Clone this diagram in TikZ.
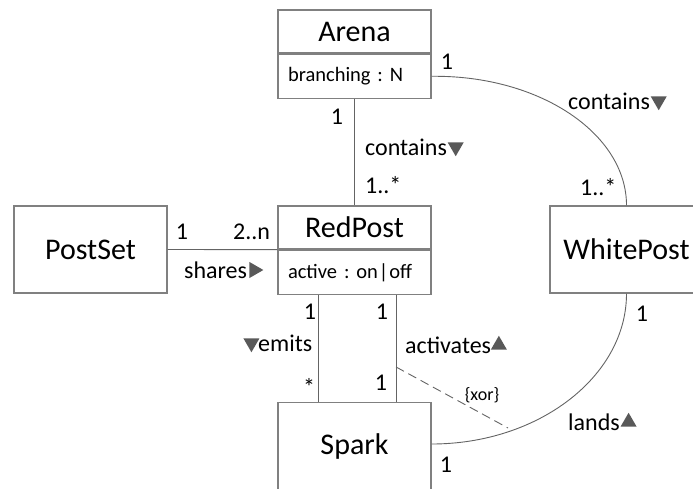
\documentclass[tikz,border=0pt]{standalone}
\usepackage{fontspec}
\setmainfont{Carlito}
\frenchspacing
\usetikzlibrary{positioning,shapes.geometric}
\definecolor{boxgray}{RGB}{128,128,128}
\definecolor{linegray}{RGB}{100,100,100}
\definecolor{trigray}{RGB}{89,89,89}
\tikzset{
  classbox/.style={draw=boxgray,line width=1.3pt,minimum width=153pt,inner sep=0pt,font=\fontsize{30}{35}\selectfont},
  classname/.style={classbox,minimum height=43pt},
  classattr/.style={classbox,minimum height=44pt,inner xsep=10pt,text width=133pt,align=left,font=\fontsize{20.5}{24}\selectfont},
  classfull/.style={classbox,minimum height=87pt},
  assoc/.style={draw=linegray,line width=0.9pt},
  lbl/.style={inner sep=0pt,font=\fontsize{24}{28}\selectfont},
  tri/.style={regular polygon,regular polygon sides=3,fill=trigray,inner sep=0pt,minimum size=18.5pt},
  triup/.style={tri},
  tridown/.style={tri,shape border rotate=180},
  triright/.style={tri,shape border rotate=-90}
}
\begin{document}
\begin{tikzpicture}[x=1pt,y=-1pt]
\useasboundingbox (0,0) rectangle (693,489);
% classes
\node[classname] (arena) at (354.5,31.5) {Arena};
\node[classattr,below=0pt of arena] (arenaattr) {\mbox{branching : N}};
\node[classname] (redpost) at (354.5,227.5) {RedPost};
\node[classattr,below=0pt of redpost] (redpostattr) {\mbox{active : on\kern1pt|\kern1pt off}};
\node[classfull] (postset) at (90.5,249.5) {PostSet};
\node[classfull] (whitepost) at (626.5,249.5) {WhitePost};
\node[classfull] (spark) at (354.5,446) {Spark};

% associations
\draw[assoc] (arenaattr.south) -- (redpost.north);
\draw[assoc] (postset.east) -- (redpost.south west);
\draw[assoc] ([xshift=-36.5pt]redpostattr.south) -- ([xshift=-36.5pt]spark.north);
\draw[assoc] ([xshift=41.5pt]redpostattr.south) coordinate (actstart) -- ([xshift=41.5pt]spark.north);
\draw[assoc] (arenaattr.east) .. controls (540,75) and (626.5,134) .. (whitepost.north);
\draw[assoc] (whitepost.south) .. controls (626.5,376) and (539,444) .. ([yshift=2pt]spark.east);
\coordinate (xorend) at (508,428);
\draw[assoc,dash pattern=on 9pt off 5pt] ([yshift=-72pt]actstart) -- (xorend);

% labels
\node[lbl] (mA1) at (337,117) {1};
\node[lbl,anchor=west] (contA) at (365,147) {contains};
\node[tridown,right=3pt of contA] (contAtri) {};
\node[lbl,anchor=west] (mA2) at (365,185) {1..*};
\node[lbl] (mB1) at (447,62) {1};
\node[lbl,anchor=west] (contB) at (568,101) {contains};
\node[tridown,right=3pt of contB] (contBtri) {};
\node[lbl,anchor=west] (mB2) at (580,187) {1..*};
\node[lbl] (mC1) at (642,314) {1};
\node[lbl,anchor=west] (lands) at (568,422) {lands};
\node[triup,right=3pt of lands] (landstri) {};
\node[lbl] (mC2) at (446,465) {1};
\node[lbl] (mD1) at (182,232) {1};
\node[lbl,anchor=west] (mD2) at (233,232) {2..n};
\node[lbl,anchor=west] (shares) at (184,270) {shares};
\node[triright,right=2pt of shares] (sharestri) {};
\node[lbl] (mE1) at (310,312) {1};
\node[lbl,anchor=west] (emits) at (258,343) {emits};
\node[tridown,left=1pt of emits] (emitstri) {};
\node[lbl] (mE2) at (309,387) {*};
\node[lbl] (mF1) at (382,312) {1};
\node[lbl,anchor=west] (activates) at (405,345) {activates};
\node[triup,right=2pt of activates] (actstri) {};
\node[lbl] (mF2) at (381,383) {1};
\node[lbl,font=\fontsize{18}{21}\selectfont] (xor) at (482,395) {\{xor\}};
\end{tikzpicture}
\end{document}
